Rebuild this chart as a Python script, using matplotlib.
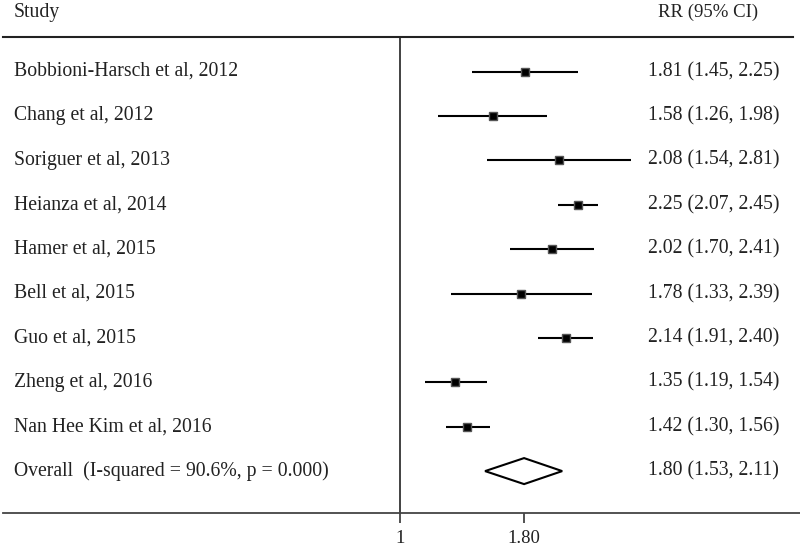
import numpy as np
import matplotlib.pyplot as plt
from matplotlib.lines import Line2D
from matplotlib.transforms import blended_transform_factory

studies = ["Bobbioni-Harsch et al, 2012", "Chang et al, 2012", "Soriguer et al, 2013",
           "Heianza et al, 2014", "Hamer et al, 2015", "Bell et al, 2015",
           "Guo et al, 2015", "Zheng et al, 2016", "Nan Hee Kim et al, 2016"]
rr = [1.81, 1.58, 2.08, 2.25, 2.02, 1.78, 2.14, 1.35, 1.42]
lo = [1.45, 1.26, 1.54, 2.07, 1.70, 1.33, 1.91, 1.19, 1.30]
hi = [2.25, 1.98, 2.81, 2.45, 2.41, 2.39, 2.40, 1.54, 1.56]
overall_label = "Overall  (I-squared = 90.6%, p = 0.000)"
overall = (1.80, 1.53, 2.11)

plt.rcParams['font.family'] = ['Liberation Serif', 'DejaVu Serif']
W, H = 800, 548
fig = plt.figure(figsize=(8, 5.48), dpi=100)

# forest panel: left spine is the null line
top_px, bot_px = 37, 513
ax = fig.add_axes([400 / W, 1 - bot_px / H, 1 - 400 / W, (bot_px - top_px) / H])
ax.set_xscale('log')
ppu = 240.0          # pixels per ln unit
x0 = 383.0           # pixel of rr = 1 in the picture
ax.set_xlim(np.exp((400 - x0) / ppu), np.exp((800 - x0) / ppu))
row0, step = 71.5, 44.4
ax.set_ylim((bot_px - row0) / step, (top_px - row0) / step)

n = len(studies)
ys = np.arange(n)
for y, r, l, h in zip(ys, rr, lo, hi):
    ax.plot([l, h], [y, y], color='black', lw=1.5, solid_capstyle='butt')
    ax.plot(r, y, marker='s', ms=6, mfc='black', mec='#555555', mew=1.0)

est, ol, oh = overall
yo = n
dh = 13 / step
ax.fill([ol, est, oh, est, ol], [yo, yo - dh, yo, yo + dh, yo],
        facecolor='white', edgecolor='black', lw=1.5)

for s in ['top', 'right']:
    ax.spines[s].set_visible(False)
ax.spines['left'].set_color('#333333')
ax.spines['left'].set_linewidth(1.3)
ax.spines['bottom'].set_visible(False)
ax.set_yticks([])
ax.set_xticks([ax.get_xlim()[0], est])
ax.set_xticks([], minor=True)
ax.set_xticklabels(['1', '%.2f' % est])
ax.tick_params(axis='x', direction='out', length=7, width=1.2, color='#333333',
               labelsize=13.5, labelcolor='#222222', pad=5)

# horizontal rules
fig.add_artist(Line2D([3 / W, 793 / W], [1 - top_px / H] * 2, color='#222222', lw=1.5))
fig.add_artist(Line2D([3 / W, 1.0], [1 - bot_px / H] * 2, color='#444444', lw=1.3))

tr = blended_transform_factory(fig.transFigure, ax.transData)
fs = 14.2
labels = studies + [overall_label]
vals = ['%.2f (%.2f, %.2f)' % t for t in zip(rr, lo, hi)] + ['%.2f (%.2f, %.2f)' % overall]
for y, lab, v in zip(range(n + 1), labels, vals):
    ax.text(14 / W, y, lab, transform=tr, ha='left', va='center', fontsize=fs,
            color='#222222', clip_on=False)
    ax.text(648 / W, y, v, transform=tr, ha='left', va='center', fontsize=fs,
            color='#222222', clip_on=False)

fig.text(14 / W, 1 - 12 / H, 'Study', ha='left', va='center', fontsize=fs, color='#222222')
fig.text(658 / W, 1 - 12 / H, 'RR (95% CI)', ha='left', va='center', fontsize=13.5, color='#222222')

fig.savefig('out.png', dpi=100)
